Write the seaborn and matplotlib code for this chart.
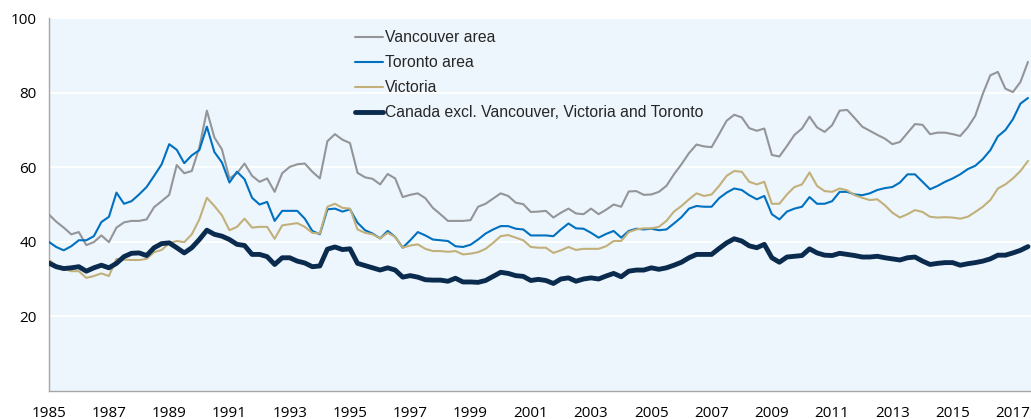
import numpy as np
import pandas as pd
import matplotlib
matplotlib.use("Agg")
import matplotlib.pyplot as plt
import seaborn as sns
from matplotlib.ticker import MultipleLocator

# Quarterly observations, 1985Q1 .. 2017Q3
start_year = 1985.0
vancouver = [
    47.4, 45.4, 43.8, 42.0, 42.6, 39.1, 39.9, 41.7, 39.9, 43.8, 45.2, 45.6, 45.6, 46.0, 49.3, 50.9, 52.6, 60.6, 58.4,
    59.0, 65.3, 75.2, 68.0, 64.8, 57.0, 58.4, 61.0, 57.7, 56.1, 57.0, 53.4, 58.4, 60.1, 60.8, 61.0, 58.8, 57.0,
    67.0, 68.9, 67.4, 66.5, 58.5, 57.3, 56.9, 55.4, 58.2, 57.0, 52.0, 52.6, 53.0, 51.7, 49.1, 47.4, 45.6, 45.6, 45.6,
    45.8, 49.4, 50.2, 51.6, 53.0, 52.3, 50.5, 50.1, 48.0, 48.1, 48.3, 46.5, 47.8, 48.9, 47.6, 47.4, 48.9, 47.4,
    48.6, 50.0, 49.4, 53.5, 53.6, 52.6, 52.7, 53.4, 55.0, 58.1, 60.8, 63.8, 66.1, 65.6, 65.4, 68.9, 72.5, 74.1, 73.4,
    70.5, 69.8, 70.4, 63.3, 62.9, 65.7, 68.7, 70.4, 73.6, 70.7, 69.5, 71.3, 75.2, 75.4, 73.2, 70.9, 69.8, 68.7,
    67.7, 66.2, 66.8, 69.2, 71.6, 71.4, 68.9, 69.3, 69.3, 68.9, 68.4, 70.7, 73.8, 79.7, 84.7, 85.6, 81.1, 80.2, 82.9, 88.3,
]
toronto = [
    40.0, 38.6, 37.7, 38.8, 40.4, 40.4, 41.5, 45.3, 46.7, 53.2, 50.2, 50.9, 52.7, 54.7, 57.7, 60.8, 66.2, 64.7, 61.1,
    63.2, 64.6, 70.9, 64.1, 61.3, 55.9, 58.8, 56.8, 51.8, 50.0, 50.7, 45.6, 48.3, 48.3, 48.3, 46.2, 42.9, 42.0,
    48.7, 48.9, 48.1, 48.7, 45.1, 43.1, 42.2, 40.9, 42.9, 41.3, 38.4, 40.4, 42.6, 41.7, 40.6, 40.4, 40.2, 38.8, 38.6,
    39.2, 40.6, 42.2, 43.3, 44.2, 44.2, 43.5, 43.3, 41.7, 41.7, 41.7, 41.5, 43.3, 44.9, 43.6, 43.5, 42.4, 41.1,
    42.1, 42.9, 41.1, 42.9, 43.5, 43.3, 43.5, 43.1, 43.3, 44.9, 46.6, 48.9, 49.6, 49.4, 49.4, 51.7, 53.2, 54.3, 53.9,
    52.5, 51.4, 52.3, 47.4, 46.0, 48.1, 48.9, 49.4, 52.0, 50.2, 50.2, 50.9, 53.4, 53.4, 52.7, 52.5, 53.0, 53.9,
    54.4, 54.7, 55.9, 58.1, 58.1, 56.1, 54.1, 55.0, 56.1, 57.0, 58.1, 59.5, 60.4, 62.2, 64.6, 68.3, 70.0, 72.9, 77.1, 78.6,
]
victoria = [
    35.2, 33.6, 32.7, 32.1, 32.1, 30.3, 30.8, 31.5, 30.8, 35.4, 35.2, 35.1, 35.1, 35.4, 37.2, 37.8, 39.6, 40.2, 39.9,
    42.0, 46.0, 51.8, 49.6, 47.1, 43.1, 44.0, 46.2, 43.8, 44.0, 44.0, 40.8, 44.4, 44.7, 45.0, 44.0, 42.4, 42.2,
    49.4, 50.2, 49.1, 48.9, 43.3, 42.4, 42.0, 40.9, 42.4, 41.3, 38.4, 39.0, 39.3, 38.1, 37.5, 37.5, 37.3, 37.5, 36.6,
    36.8, 37.2, 38.1, 39.7, 41.5, 41.8, 41.1, 40.4, 38.6, 38.4, 38.4, 37.0, 37.7, 38.6, 37.8, 38.1, 38.1, 38.1,
    38.8, 40.2, 40.2, 42.6, 43.3, 43.6, 43.6, 44.0, 45.6, 48.1, 49.6, 51.4, 53.0, 52.3, 52.7, 55.0, 57.7, 59.0, 58.8,
    56.1, 55.4, 56.1, 50.2, 50.2, 52.7, 54.7, 55.4, 58.6, 55.0, 53.6, 53.4, 54.3, 53.8, 52.5, 51.8, 51.2, 51.4,
    49.8, 47.8, 46.5, 47.4, 48.5, 48.0, 46.7, 46.5, 46.6, 46.5, 46.2, 46.7, 48.0, 49.4, 51.2, 54.3, 55.4, 57.0, 59.0, 61.7,
]
canada_excl = [
    34.3, 33.3, 32.8, 33.0, 33.3, 32.1, 33.0, 33.7, 33.0, 34.2, 36.0, 36.9, 37.0, 36.3, 38.4, 39.5, 39.7, 38.4, 37.0,
    38.4, 40.6, 43.1, 42.0, 41.5, 40.6, 39.3, 39.0, 36.6, 36.6, 36.0, 33.9, 35.7, 35.7, 34.8, 34.3, 33.3, 33.5,
    38.0, 38.6, 37.9, 38.1, 34.2, 33.6, 33.0, 32.4, 33.0, 32.4, 30.5, 30.9, 30.5, 29.8, 29.7, 29.7, 29.4, 30.2, 29.2,
    29.2, 29.1, 29.6, 30.7, 31.8, 31.5, 30.9, 30.7, 29.6, 29.9, 29.6, 28.8, 30.0, 30.3, 29.4, 30.0, 30.3, 30.0,
    30.8, 31.5, 30.6, 32.1, 32.4, 32.4, 33.0, 32.6, 33.0, 33.7, 34.5, 35.7, 36.6, 36.6, 36.6, 38.2, 39.7, 40.8, 40.2,
    38.9, 38.4, 39.3, 35.7, 34.5, 35.9, 36.1, 36.3, 38.1, 37.0, 36.4, 36.3, 36.9, 36.6, 36.3, 35.9, 35.9, 36.1,
    35.7, 35.4, 35.1, 35.7, 35.9, 34.8, 33.9, 34.2, 34.4, 34.4, 33.7, 34.1, 34.4, 34.8, 35.4, 36.4, 36.4, 37.0, 37.7, 38.7,
]
series_names = ["Vancouver area", "Toronto area", "Victoria",
                "Canada excl. Vancouver, Victoria and Toronto"]
x_tick_labels = [str(y) for y in range(1985, 2018, 2)]
y_ticks = [20, 40, 60, 80, 100]

n = len(vancouver)
years = start_year + 0.25 * np.arange(n)

df = pd.concat([
    pd.DataFrame({"year": years, "value": vals, "series": name})
    for name, vals in zip(series_names, [vancouver, toronto, victoria, canada_excl])
], ignore_index=True)

colors = ["#939598", "#0070C0", "#C2B07A", "#0A2B4E"]
widths = [1.5, 1.5, 1.5, 3.5]

sns.set_style("white")
plt.rcParams["font.family"] = ["Liberation Sans", "DejaVu Sans"]

fig = plt.figure(figsize=(10.31, 4.19), dpi=100)
ax = fig.add_axes([0.0472, 0.0675, 0.9528, 0.8888])
ax.set_facecolor("#EEF6FD")

for name, c, w in zip(series_names, colors, widths):
    sns.lineplot(data=df[df["series"] == name], x="year", y="value", ax=ax,
                 color=c, linewidth=w, label=name, zorder=3)

ax.set_xlim(1985, 2017.6)
ax.set_ylim(0, 100)
ax.set_yticks(y_ticks)
ax.set_yticklabels([str(v) for v in y_ticks], fontsize=11, family="Open Sans")
ax.set_xticks(list(range(1985, 2018, 2)))
ax.set_xticklabels(x_tick_labels, fontsize=11, family="Open Sans")
ax.xaxis.set_minor_locator(MultipleLocator(1))
ax.set_xlabel("")
ax.set_ylabel("")

ax.grid(axis="y", color="white", linewidth=1.3, zorder=1)
ax.set_axisbelow(True)
for s in ["top", "right"]:
    ax.spines[s].set_visible(False)
for s in ["left", "bottom"]:
    ax.spines[s].set_color("#A6A6A6")
    ax.spines[s].set_linewidth(1.0)
ax.tick_params(axis="both", which="both", direction="out", color="#A6A6A6",
               length=5, width=1.0, labelcolor="#000000")
ax.tick_params(axis="x", which="minor", length=5)
ax.tick_params(axis="x", pad=6)

leg = ax.legend(loc="upper left", bbox_to_anchor=(0.305, 0.985), frameon=False,
                fontsize=11.3, handlelength=1.8, handletextpad=0.13,
                labelspacing=0.64, borderaxespad=0)

fig.savefig("out.png", dpi=100, facecolor="white")
